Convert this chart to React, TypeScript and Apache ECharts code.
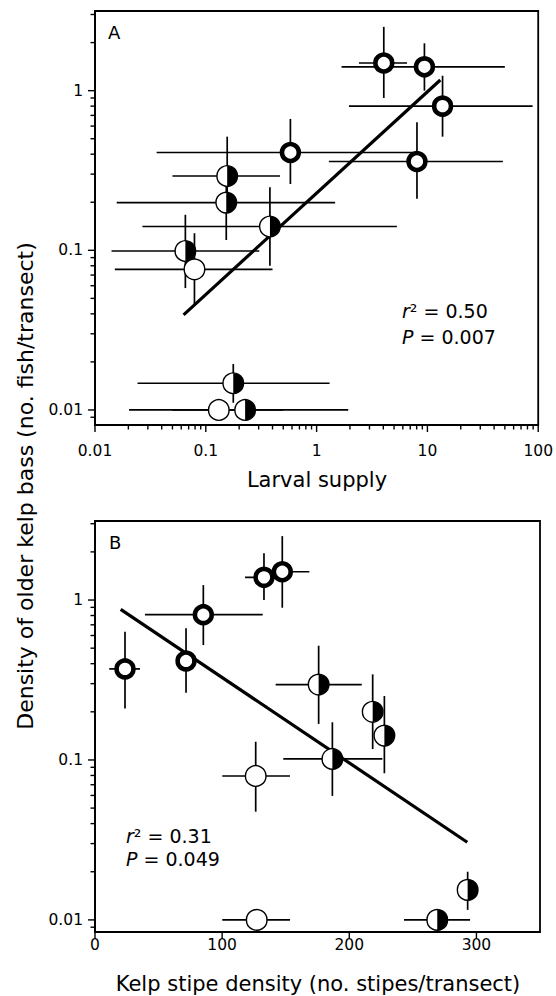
import React, { useEffect, useRef } from 'react';
import * as echarts from 'echarts';

const FONT = 'DejaVu Sans';

// ---------- Panel A: larval supply vs density of older kelp bass ----------
const larvalSupply = [4.04, 9.4, 13.7, 0.58, 8.05, 0.156, 0.153, 0.379, 0.0654, 0.079, 0.177, 0.131, 0.2265];
const densityA = [1.49, 1.41, 0.8, 0.41, 0.36, 0.292, 0.199, 0.141, 0.099, 0.076, 0.0147, 0.01, 0.01];
const larvalLo = [2.41, 1.68, 1.96, 0.036, 1.29, 0.05, 0.0157, 0.0268, 0.0141, 0.0151, 0.0242, 0.0203, 0.05];
const larvalHi = [6.55, 50, 89, 8.3, 48, 0.467, 1.47, 5.3, 0.304, 0.4, 1.31, 0.5, 1.93];
const densityALo = [0.9, 1.0, 0.515, 0.26, 0.21, 0.174, 0.116, 0.08, 0.058, 0.0455, 0.0111, null, null];
const densityAHi = [2.51, 1.98, 1.24, 0.665, 0.634, 0.515, 0.27, 0.248, 0.167, 0.128, 0.0194, null, null];
// 0 = thick ring, 1 = half filled, 2 = open circle
const markerA = [0, 0, 0, 0, 0, 1, 1, 1, 1, 2, 1, 2, 1];
const fitAx = [0.063, 13.07];
const fitAy = [0.0394, 1.167];

// ---------- Panel B: kelp stipe density vs density of older kelp bass ----------
const stipeDensity = [23.6, 71.6, 85.2, 132.9, 147.3, 175.9, 218.4, 227.6, 186.7, 126.4, 293.1, 127.2, 269.2];
const densityB = [0.371, 0.416, 0.81, 1.386, 1.503, 0.296, 0.2, 0.142, 0.1015, 0.0794, 0.0154, 0.01, 0.01];
const stipeLo = [11.2, null, 39.3, 118, 128, 142.1, null, null, 148.1, 100.1, null, 100.1, 243];
const stipeHi = [35.4, null, 131.9, 148, 168.6, 209.8, null, null, 226, 153.4, null, 153.4, 295];
const densityBLo = [0.21, 0.263, 0.523, 1.0, 0.895, 0.168, 0.117, 0.0826, 0.0596, 0.0475, 0.01155, null, null];
const densityBHi = [0.634, 0.666, 1.24, 1.96, 2.51, 0.518, 0.343, 0.251, 0.172, 0.13, 0.02, null, null];
const markerB = [0, 0, 0, 0, 0, 1, 1, 1, 1, 2, 1, 2, 1];
const fitBx = [20.2, 292.8];
const fitBy = [0.875, 0.0306];

// ---------- Axes ----------
const decadeTicks = [0.001, 0.01, 0.1, 1, 10, 100];
const decadeLabels = ['0.001', '0.01', '0.1', '1', '10', '100'];
const minorFactors = [2, 3, 4, 5, 6, 7, 8, 9];
const stipeTicks = [0, 100, 200, 300];
const stipeLabels = ['0', '100', '200', '300'];
const larvalMin = 0.01;
const larvalMax = 100;
const stipeMin = 0;
const stipeMax = 350;
const densAMin = 0.00805;
const densAMax = 3.155;
const densBMin = 0.0084;
const densBMax = 3.12;

const nan = (v: number | null) => (v === null || v === undefined ? NaN : v);

function decadeFmt(v: number) {
  const i = decadeTicks.findIndex((t) => Math.abs(Math.log10(v) - Math.log10(t)) < 1e-6);
  return i >= 0 ? decadeLabels[i] : '';
}
function stipeFmt(v: number) {
  const i = stipeTicks.findIndex((t) => Math.abs(v - t) < 1e-6);
  return i >= 0 ? stipeLabels[i] : '';
}

function logTicks(min: number, max: number) {
  const out: [number, number][] = [];
  decadeTicks.forEach((d) => {
    if (d >= min * 0.9999 && d <= max * 1.0001) out.push([d, 1]);
    minorFactors.forEach((f) => {
      const v = d * f;
      if (v >= min && v <= max) out.push([v, 0]);
    });
  });
  return out;
}

// items: [x, y, axis(0=y,1=x), major]
const ticksA = [
  ...logTicks(densAMin, densAMax).map(([v, m]) => [1, v, 0, m]),
  ...logTicks(larvalMin, larvalMax).map(([v, m]) => [v, 1, 1, m]),
];
const ticksB = [
  ...logTicks(densBMin, densBMax).map(([v, m]) => [100, v, 0, m]),
  ...stipeTicks.map((v) => [v, 1, 1, 1]),
];

const pointsA = larvalSupply.map((x, i) => [x, densityA[i], nan(larvalLo[i]), nan(larvalHi[i]), nan(densityALo[i]), nan(densityAHi[i]), markerA[i]]);
const pointsB = stipeDensity.map((x, i) => [x, densityB[i], nan(stipeLo[i]), nan(stipeHi[i]), nan(densityBLo[i]), nan(densityBHi[i]), markerB[i]]);

const tickRender = (params: any, api: any) => {
  const cs = params.coordSys;
  const p = api.coord([api.value(0), api.value(1)]);
  const isX = api.value(2) === 1;
  const len = api.value(3) === 1 ? 7 : 4.5;
  const style = { stroke: '#000', lineWidth: 1.4 };
  if (isX) {
    const yb = cs.y + cs.height;
    return { type: 'line', shape: { x1: p[0], y1: yb, x2: p[0], y2: yb + len }, style };
  }
  return { type: 'line', shape: { x1: cs.x - len, y1: p[1], x2: cs.x, y2: p[1] }, style };
};

const errRender = (params: any, api: any) => {
  const x = api.value(0);
  const y = api.value(1);
  const xlo = api.value(2);
  const xhi = api.value(3);
  const ylo = api.value(4);
  const yhi = api.value(5);
  const style = { stroke: '#000', lineWidth: 1.7 };
  const children: any[] = [];
  if (isFinite(xlo) && isFinite(xhi)) {
    const a = api.coord([xlo, y]);
    const b = api.coord([xhi, y]);
    children.push({ type: 'line', shape: { x1: a[0], y1: a[1], x2: b[0], y2: b[1] }, style });
  }
  if (isFinite(ylo) && isFinite(yhi)) {
    const a = api.coord([x, ylo]);
    const b = api.coord([x, yhi]);
    children.push({ type: 'line', shape: { x1: a[0], y1: a[1], x2: b[0], y2: b[1] }, style });
  }
  return { type: 'group', children };
};

const markerRender = (params: any, api: any) => {
  const c = api.coord([api.value(0), api.value(1)]);
  const code = api.value(6);
  if (code === 0) {
    return { type: 'circle', shape: { cx: c[0], cy: c[1], r: 8.4 }, style: { fill: '#fff', stroke: '#000', lineWidth: 4.6 } };
  }
  if (code === 2) {
    return { type: 'circle', shape: { cx: c[0], cy: c[1], r: 10.3 }, style: { fill: '#fff', stroke: '#000', lineWidth: 1.4 } };
  }
  return {
    type: 'group',
    children: [
      { type: 'circle', shape: { cx: c[0], cy: c[1], r: 10.3 }, style: { fill: '#fff', stroke: '#000', lineWidth: 1.4 } },
      { type: 'sector', shape: { cx: c[0], cy: c[1], r: 10.3, r0: 0, startAngle: -Math.PI / 2, endAngle: Math.PI / 2, clockwise: true }, style: { fill: '#000' } },
    ],
  };
};

const axisCommon = {
  axisLine: { show: true, onZero: false, lineStyle: { color: '#000', width: 1.8 } },
  axisTick: { show: false },
  minorTick: { show: false },
  splitLine: { show: false },
};
const labelStyle = { color: '#000', fontFamily: FONT, fontSize: 15.5 };

const gridStyle = { show: true, borderColor: '#000', borderWidth: 1.8, backgroundColor: 'transparent' };

const textStyle = (extra: any) => ({ fill: '#000', fontFamily: FONT, ...extra });
const italic = { i: { fontStyle: 'italic', fontSize: 19, fontFamily: FONT, fill: '#000' } };

export default function App() {
  const ref = useRef<HTMLDivElement>(null);
  useEffect(() => {
    if (!ref.current) return;
    const chart = echarts.init(ref.current, null, { renderer: 'svg' });
    const option: any = {
      animation: false,
      grid: [
        { left: 95, top: 11, width: 445, height: 414, ...gridStyle },
        { left: 95, top: 521, width: 445, height: 411, ...gridStyle },
      ],
      xAxis: [
        { type: 'log', logBase: 10, gridIndex: 0, min: larvalMin, max: larvalMax, ...axisCommon, axisLabel: { ...labelStyle, margin: 18, formatter: decadeFmt } },
        { type: 'value', gridIndex: 1, min: stipeMin, max: stipeMax, interval: 100, ...axisCommon, axisLabel: { ...labelStyle, margin: 5, formatter: stipeFmt } },
      ],
      yAxis: [
        { type: 'log', logBase: 10, gridIndex: 0, min: densAMin, max: densAMax, ...axisCommon, axisLabel: { ...labelStyle, margin: 12, formatter: decadeFmt } },
        { type: 'log', logBase: 10, gridIndex: 1, min: densBMin, max: densBMax, ...axisCommon, axisLabel: { ...labelStyle, margin: 12, formatter: decadeFmt } },
      ],
      series: [
        { type: 'custom', xAxisIndex: 0, yAxisIndex: 0, data: ticksA, renderItem: tickRender, clip: false, silent: true, z: 5 },
        { type: 'custom', xAxisIndex: 1, yAxisIndex: 1, data: ticksB, renderItem: tickRender, clip: false, silent: true, z: 5 },
        { type: 'custom', xAxisIndex: 0, yAxisIndex: 0, data: pointsA, renderItem: errRender, clip: false, silent: true, z: 2 },
        { type: 'custom', xAxisIndex: 1, yAxisIndex: 1, data: pointsB, renderItem: errRender, clip: false, silent: true, z: 2 },
        { type: 'line', xAxisIndex: 0, yAxisIndex: 0, data: fitAx.map((x, i) => [x, fitAy[i]]), symbol: 'none', lineStyle: { color: '#000', width: 3.2 }, silent: true, z: 3 },
        { type: 'line', xAxisIndex: 1, yAxisIndex: 1, data: fitBx.map((x, i) => [x, fitBy[i]]), symbol: 'none', lineStyle: { color: '#000', width: 3.2 }, silent: true, z: 3 },
        { type: 'custom', xAxisIndex: 0, yAxisIndex: 0, data: pointsA, renderItem: markerRender, clip: false, silent: true, z: 4 },
        { type: 'custom', xAxisIndex: 1, yAxisIndex: 1, data: pointsB, renderItem: markerRender, clip: false, silent: true, z: 4 },
      ],
      graphic: [
        { type: 'text', x: 108, y: 32, silent: true, style: textStyle({ text: 'A', fontSize: 18, align: 'left', textAlign: 'left', verticalAlign: 'middle', textVerticalAlign: 'middle' }) },
        { type: 'text', x: 109, y: 542, silent: true, style: textStyle({ text: 'B', fontSize: 18, align: 'left', textAlign: 'left', verticalAlign: 'middle', textVerticalAlign: 'middle' }) },
        { type: 'text', x: 402, y: 311, silent: true, style: textStyle({ text: '{i|r}² = 0.50', fontSize: 19, rich: italic, align: 'left', textAlign: 'left', verticalAlign: 'middle', textVerticalAlign: 'middle' }) },
        { type: 'text', x: 402, y: 337, silent: true, style: textStyle({ text: '{i|P} = 0.007', fontSize: 19, rich: italic, align: 'left', textAlign: 'left', verticalAlign: 'middle', textVerticalAlign: 'middle' }) },
        { type: 'text', x: 126, y: 836, silent: true, style: textStyle({ text: '{i|r}² = 0.31', fontSize: 19, rich: italic, align: 'left', textAlign: 'left', verticalAlign: 'middle', textVerticalAlign: 'middle' }) },
        { type: 'text', x: 126, y: 859, silent: true, style: textStyle({ text: '{i|P} = 0.049', fontSize: 19, rich: italic, align: 'left', textAlign: 'left', verticalAlign: 'middle', textVerticalAlign: 'middle' }) },
        { type: 'text', x: 317, y: 480, silent: true, style: textStyle({ text: 'Larval supply', fontSize: 21, align: 'center', textAlign: 'center', verticalAlign: 'middle', textVerticalAlign: 'middle' }) },
        { type: 'text', x: 318, y: 984, silent: true, style: textStyle({ text: 'Kelp stipe density (no. stipes/transect)', fontSize: 21, align: 'center', textAlign: 'center', verticalAlign: 'middle', textVerticalAlign: 'middle' }) },
        { type: 'text', x: 25, y: 486, rotation: Math.PI / 2, silent: true, style: textStyle({ text: 'Density of older kelp bass (no. fish/transect)', fontSize: 22, align: 'center', textAlign: 'center', verticalAlign: 'middle', textVerticalAlign: 'middle' }) },
      ],
    };
    chart.setOption(option);
    return () => chart.dispose();
  }, []);
  return <div ref={ref} style={{ position: 'absolute', left: 0, top: 0, width: 556, height: 996 }} />;
}
